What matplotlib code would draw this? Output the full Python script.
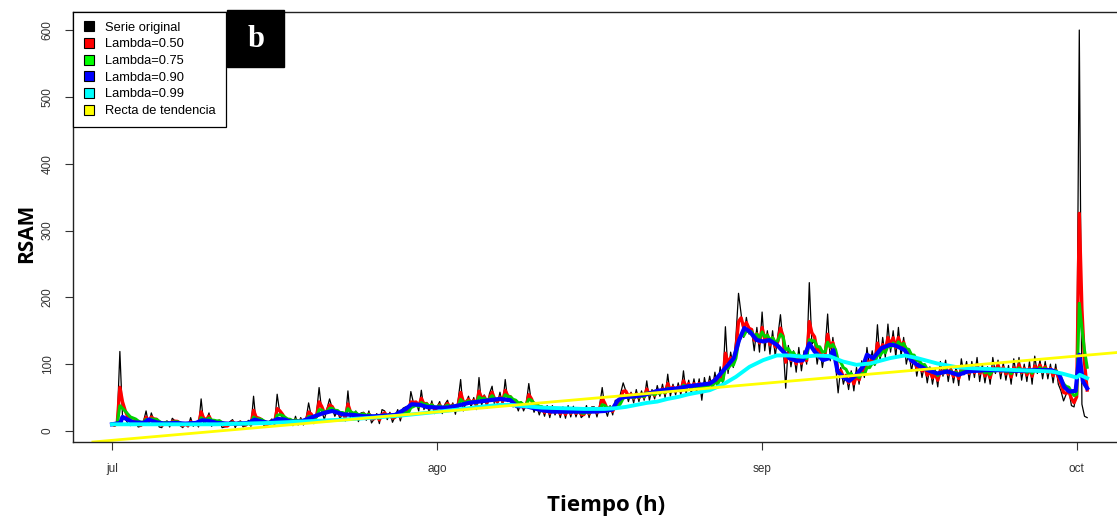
import numpy as np
import matplotlib
matplotlib.use("Agg")
import matplotlib.pyplot as plt
from matplotlib.lines import Line2D
from matplotlib.patches import Rectangle

# Serie original RSAM, 4 lecturas por dia (cada 6 h) desde el 1 de julio
serie = [
    10, 7, 15, 119,   22, 18, 12, 8,    15, 13, 6, 7,     14, 30, 9, 27,
    15, 17, 6, 5,     13, 15, 6, 19,    15, 14, 8, 5,     12, 6, 20, 7,
    14, 6, 48, 9,     16, 27, 7, 15,    12, 16, 5, 6,     7, 14, 17, 5,
    13, 15, 6, 8,     16, 7, 52, 10,    18, 15, 8, 6,     14, 18, 9, 55,
    27, 20, 12, 10,   16, 8, 22, 9,     20, 9, 17, 42,    22, 11, 26, 65,
    30, 17, 33, 48,   34, 22, 30, 18,   28, 15, 60, 16,   20, 30, 14, 27,
    28, 16, 30, 12,   18, 26, 11, 32,   30, 17, 28, 13,   22, 32, 15, 34,
    36, 24, 59, 42,   44, 30, 61, 32,   42, 28, 45, 26,   36, 44, 26, 40,
    46, 30, 42, 25,   45, 77, 30, 42,   52, 36, 50, 32,   80, 38, 54, 34,
    56, 67, 36, 40,   58, 38, 77, 44,   50, 36, 42, 30,   44, 30, 40, 71,
    42, 28, 38, 24,   36, 22, 38, 20,   38, 24, 35, 20,   36, 19, 38, 21,
    37, 21, 34, 20,   24, 38, 20, 36,   36, 21, 38, 65,   34, 22, 38, 24,
    46, 38, 56, 72,   60, 44, 58, 42,   62, 44, 60, 46,   75, 46, 62, 48,
    68, 52, 70, 50,   85, 52, 70, 54,   72, 54, 90, 56,   76, 56, 78, 58,
    78, 46, 80, 60,   82, 62, 88, 64,   96, 70, 156, 86,  118, 95, 140, 206,
    175, 140, 170, 145, 150, 120, 155, 118, 178, 120, 150, 115, 150, 112, 142, 174,
    130, 64, 128, 96, 120, 88, 125, 90,  120, 100, 222, 130, 135, 100, 125, 95,
    120, 175, 105, 140, 100, 57, 95, 70, 85, 62, 90, 60,   95, 70, 105, 80,
    125, 95, 120, 98, 159, 105, 140, 110, 160, 118, 150, 110, 155, 112, 140, 100,
    118, 90, 112, 82, 105, 80, 100, 72,  96, 70, 92, 66,   104, 82, 106, 74,
    98, 72, 96, 68,   108, 84, 104, 76,  104, 80, 110, 74,  100, 72, 96, 70,
    110, 86, 106, 78, 102, 76, 98, 70,   108, 82, 110, 76,  100, 74, 104, 70,
    112, 86, 106, 78, 104, 78, 100, 72,  100, 70, 60, 45,   55, 62, 38, 36,
    60, 600, 40, 22,  20,
]
dias = np.arange(len(serie)) * 0.25

# Lambda=0.90
l90_dias = [0, 0.8, 1.0, 1.5, 2, 3, 3.5, 4.2, 5, 6, 7, 8, 8.6, 9.3, 10, 11, 12, 13, 13.6, 14.3,
            15, 15.8, 16.5, 17, 18, 19, 20, 21, 22, 23, 24, 25, 26, 27, 28, 28.6, 29.4, 30,
            31, 32, 33, 34, 35, 36, 37, 38, 38.6, 39.5, 40, 41, 42, 43, 44, 45, 46, 47, 47.7,
            48.2, 48.6, 49, 50, 51, 52, 53, 54, 55, 56, 57, 57.5, 58, 58.6, 59.3, 59.8, 60.3,
            60.8, 61.5, 62.1, 62.7, 63.4, 64, 64.6, 65.3, 65.9, 66.5, 67, 67.8, 68.4, 68.8,
            69.2, 69.7, 70.3, 71, 71.6, 72, 72.6, 73.4, 74.2, 74.7, 75.6, 76.2, 76.8, 77.8,
            78.7, 79.7, 80.7, 81.6, 83.2, 84.8, 86.4, 88, 89.6, 90.3, 90.8, 91.3, 91.9,
            92.25, 92.6, 93]
l90_vals = [10, 12, 21, 17, 13, 12, 17, 13, 11, 12, 11, 12, 16, 15, 12, 11, 11, 12, 17, 14,
            12, 18, 17, 14, 14, 20, 26, 30, 25, 24, 22, 22, 23, 24, 33, 40, 39, 36,
            35, 35, 38, 42, 44, 46, 48, 46, 37, 37, 35, 31, 29, 29, 29, 29, 29, 30, 32,
            45, 50, 51, 52, 55, 60, 62, 64, 67, 69, 71, 76, 85, 96, 109, 136, 154,
            149, 136, 134, 136, 129, 119, 109, 105, 106, 131, 119, 106, 109, 121,
            89, 81, 75, 84, 96, 114, 109, 124, 129, 128, 121, 106, 99, 91,
            86, 89, 84, 89, 91, 91, 90, 91, 91, 86, 66, 59, 60,
            114, 74, 64]

# Lambda=0.99
l99_dias = [0, 5, 10, 15, 18, 22, 25, 27.5, 30, 33, 35, 37, 38, 39.5, 41, 43, 45, 47, 48, 49,
            50, 51, 52, 53, 54, 55, 56, 57, 58.2, 59.5, 60.8, 62.1, 63.4, 64.6, 65.9, 67.2,
            68.4, 69.7, 71, 72.3, 74.2, 75.6, 76.8, 78.7, 80.7, 83.2, 86.4, 89.6, 90.6, 92,
            92.3, 93]
l99_vals = [10, 10, 10, 12, 14, 17, 20, 23, 27, 32, 36, 39, 39, 37, 35, 34, 33, 33, 34, 36,
            39, 42, 44, 48, 51, 55, 58, 61, 69, 81, 96, 106, 113, 113, 111, 113,
            112, 104, 99, 101, 109, 113, 109, 101, 95, 93, 91, 89, 86, 80,
            84, 79]

# Recta de tendencia (valores en el 1 jul y el 2 oct)
tend_dias = [0, 93]
tend_vals = [-14, 113.5]

meses = ["jul", "ago", "sep", "oct"]
meses_pos = [0, 31, 62, 92]


def suavizar(x, lam):
    s = np.zeros(len(x))
    s[0] = x[0]
    for i in range(1, len(x)):
        s[i] = lam * s[i - 1] + (1 - lam) * x[i]
    return s


serie = np.array(serie, dtype=float)
l50 = suavizar(serie, 0.50)
l75 = suavizar(serie, 0.75)

plt.rcParams['font.family'] = ['Liberation Sans', 'DejaVu Sans']

fig = plt.figure(figsize=(11.17, 5.21), dpi=100)
ax = fig.add_axes([73 / 1117, 79 / 521, 1054 / 1117, 430 / 521])

ax.plot(dias, serie, color='black', lw=0.9)
ax.plot(dias, l50, color='#FF0000', lw=2.4)
ax.plot(dias, l75, color='#00D000', lw=2.2)
ax.plot(l90_dias, l90_vals, color='#0000FF', lw=3.0)
ax.plot(l99_dias, l99_vals, color='#00FFFF', lw=2.8)
ax.axline((tend_dias[0], tend_vals[0]), (tend_dias[1], tend_vals[1]), color='#FFFF00', lw=2.0)

ax.set_xlim(-3.72, 96.8)
ax.set_ylim(-16.5, 627)
ax.set_xticks(meses_pos)
ax.set_xticklabels(meses)
ax.set_yticks([0, 100, 200, 300, 400, 500, 600])
ax.tick_params(axis='x', length=6, width=0.8, pad=9, labelsize=8.5, colors='#333333')
ax.tick_params(axis='y', length=6, width=0.8, pad=8, labelsize=8.5, colors='#333333')
for lab in ax.get_yticklabels():
    lab.set_rotation(90)
    lab.set_va('center')
for sp in ax.spines.values():
    sp.set_linewidth(1.0)
    sp.set_color('#222222')

fig.text(27 / 1117, 1 - 233 / 521, "RSAM", rotation=90, ha='center', va='center',
         family='Open Sans', fontweight='bold', fontsize=15)
fig.text(606 / 1117, 1 - 505 / 521, "Tiempo (h)", ha='center', va='center',
         family='Open Sans', fontweight='bold', fontsize=16)

etiquetas = ["Serie original", "Lambda=0.50", "Lambda=0.75", "Lambda=0.90",
             "Lambda=0.99", "Recta de tendencia"]
colores = ['black', '#FF0000', '#00FF00', '#0000FF', '#00FFFF', '#FFFF00']
handles = [Line2D([], [], marker='s', linestyle='none', markersize=6.5,
                  markerfacecolor=c, markeredgecolor='black', markeredgewidth=0.8)
           for c in colores]
leg = ax.legend(handles, etiquetas, loc='upper left', bbox_to_anchor=(0, 1),
                borderaxespad=0, fancybox=False, framealpha=1, edgecolor='black',
                fontsize=9.3, handlelength=1.0, handletextpad=0.75, labelspacing=0.36,
                borderpad=0.75)
leg.get_frame().set_linewidth(0.9)

# recuadro negro con la letra del panel
ax.add_patch(Rectangle((0.1461, 0.872), 0.0541, 0.133, transform=ax.transAxes,
                       facecolor='black', edgecolor='black', clip_on=False, zorder=5))
ax.text(0.1732, 0.936, "b", transform=ax.transAxes, ha='center', va='center',
        family='Liberation Serif', fontweight='bold', fontsize=22, color='white', zorder=6)

fig.savefig("out.png", dpi=100)
